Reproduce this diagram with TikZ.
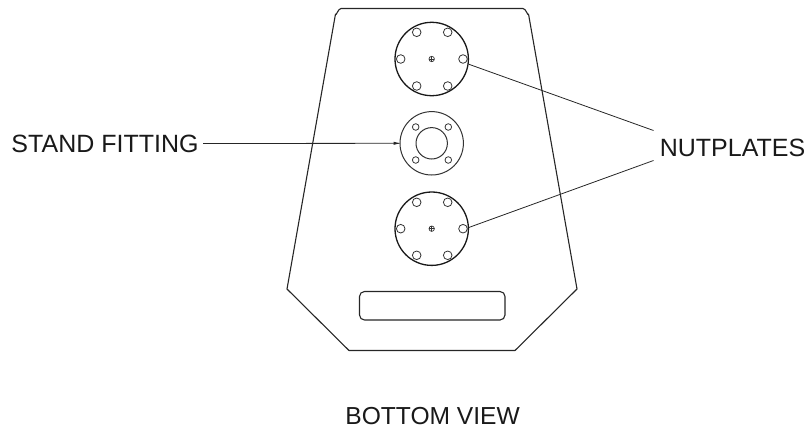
\documentclass[tikz,border=0pt]{standalone}
\usepackage{fontspec}
\setmainfont{Liberation Sans}
\begin{document}
\begin{tikzpicture}[x=1pt,y=-1pt,
  outline/.style={draw=black!85,line width=1.1pt,line join=round},
  bigc/.style={circle,draw=black!90,line width=1.3pt,minimum size=73.4pt,inner sep=0pt},
  midc/.style={circle,draw=black!80,line width=1pt,minimum size=63.4pt,inner sep=0pt},
  innerc/.style={circle,draw=black!80,line width=1pt,minimum size=31.4pt,inner sep=0pt},
  holeb/.style={circle,draw=black!80,line width=.8pt,minimum size=8.6pt,inner sep=0pt},
  holes/.style={circle,draw=black!80,line width=.8pt,minimum size=6.6pt,inner sep=0pt},
  pin/.style={circle,draw=black!80,line width=.7pt,minimum size=5.4pt,inner sep=0pt,
    path picture={\draw[black!80,line width=.6pt] (path picture bounding box.north)--(path picture bounding box.south) (path picture bounding box.west)--(path picture bounding box.east);}},
  lbl/.style={font=\fontsize{25}{30}\selectfont,inner sep=0pt,text=black!90,anchor=base},
  leader/.style={draw=black!85,line width=.8pt}]
\useasboundingbox (0,0) rectangle (811,429);
\draw[outline] (349,350.5) -- (515,350.5) -- (577,289)
  -- (528.5,14) to[out=-100,in=0] (523,8.5) -- (341,8.5) to[out=180,in=-80] (335.5,14)
  -- (287,289) -- cycle;
\draw[outline,rounded corners=5pt] (359.5,291.5) rectangle (505,320);
\node[bigc] (top) at (431.7,59) {};
\node[pin] (tp) at (431.7,59) {};
\foreach \n/\x/\y in {a/416.7/32.3,b/447.7/32.3,c/400.7/59,d/463/59,e/416.7/86,f/447.7/86}
  \node[holeb] (t\n) at (\x,\y) {};
\node[midc] (mid) at (431.7,143.3) {};
\node[innerc] (midi) at (431.7,143.3) {};
\foreach \n/\x/\y in {a/415.7/127,b/448.3/127,c/415.7/160,d/448.3/160}
  \node[holes] (m\n) at (\x,\y) {};
\node[bigc] (low) at (431.7,228.7) {};
\node[pin] (lp) at (431.7,228.7) {};
\foreach \n/\x/\y in {a/416.7/202.3,b/447.7/202.3,c/400.7/228.7,d/463/228.7,e/416.7/255.3,f/447.7/255.3}
  \node[holeb] (l\n) at (\x,\y) {};
\node[lbl] (sf) at (105,152) {STAND FITTING};
\node[lbl] (np) at (732.5,156) {NUTPLATES};
\node[font=\fontsize{24.6}{30}\selectfont,inner sep=0pt,text=black!90,anchor=base] (bv) at (432.6,424) {BOTTOM VIEW};
\coordinate (sfe) at (203,143.5);
\coordinate (npa) at (653.5,130.5);
\coordinate (npb) at (653.5,160.5);
\draw[leader] (sfe) -- (mid.west);
\fill[black!85] (mid.west) -- ++(-6,-1.6) -- ++(0,3.2) -- cycle;
\draw[leader] (npa) -- (top.-8);
\draw[leader] (npb) -- (low.2);
\end{tikzpicture}
\end{document}
